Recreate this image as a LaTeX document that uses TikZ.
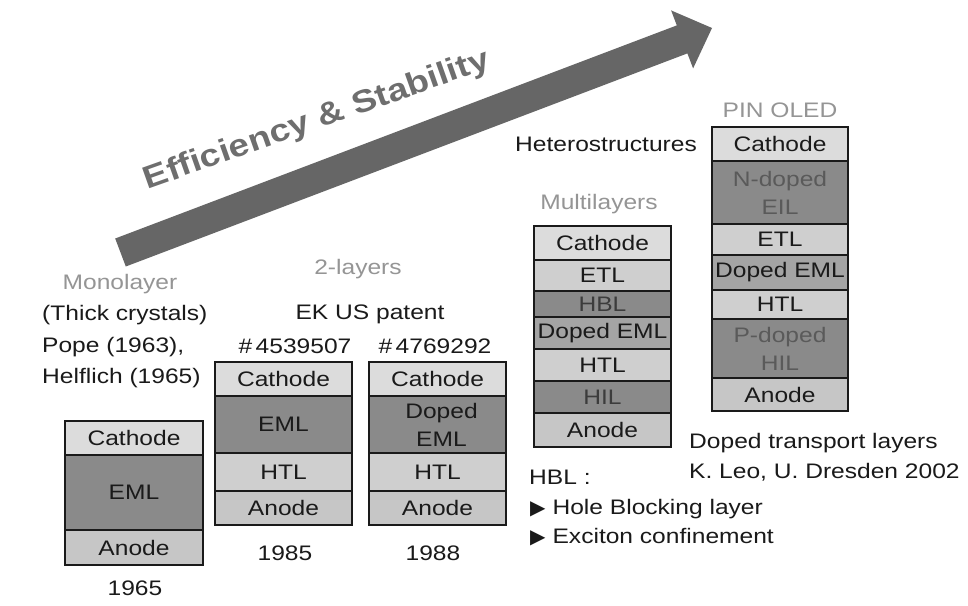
\documentclass[tikz,border=0pt]{standalone}
\usepackage{fontspec}
\setmainfont{Liberation Sans}[FakeStretch=1.17]
\newfontfamily\symfont{DejaVu Sans}
\newcommand\labfont{\fontsize{21}{28}\selectfont}
\newcommand\titlefont{\fontsize{31.5}{34}\selectfont\bfseries}
\definecolor{linec}{HTML}{1A1A1A}
\definecolor{txt}{HTML}{1A1A1A}
\definecolor{graytxt}{HTML}{959595}
\definecolor{cathc}{HTML}{DCDCDC}
\definecolor{tlc}{HTML}{CFCFCF}
\definecolor{anodec}{HTML}{C6C6C6}
\definecolor{darkc}{HTML}{8A8A8A}
\definecolor{dopedc}{HTML}{A4A4A4}
\definecolor{darktxt}{HTML}{3C3C3C}
\definecolor{dimtxt}{HTML}{5A5A5A}
\definecolor{arrowc}{HTML}{666666}
\definecolor{titlec}{HTML}{6E6E6E}
\begin{document}
\begin{tikzpicture}[x=1pt,y=-1pt,
  lay/.style={draw=linec, line width=2.8pt, inner sep=0pt, minimum width=137pt, align=center, text=txt, font=\labfont},
  cath/.style={lay, fill=cathc},
  tl/.style={lay, fill=tlc},
  an/.style={lay, fill=anodec},
  dk/.style={lay, fill=darkc},
  dp/.style={lay, fill=dopedc},
  lbl/.style={inner sep=0pt, font=\labfont, text=txt, text height=15pt, text depth=0pt},
  glbl/.style={lbl, text=graytxt}]
\path[use as bounding box, fill=white] (0,0) rectangle (968,605);

% big arrow
\fill[arrowc] (115.2,238.5) -- (676.8,25.4) -- (671.1,10.4) -- (712,28) -- (693.1,68.4) -- (687.4,53.4) -- (125.8,266.5) -- cycle;
\node[inner sep=0pt, text=titlec, font=\titlefont, text height=22pt, text depth=0pt, rotate=19.5] (title) at (316,118) {Efficiency \& Stability};

% Monolayer
\node[glbl] (monot) at (120,282) {Monolayer};
\node[lbl, anchor=west] (mono1) at (42,313) {(Thick crystals)};
\node[lbl, anchor=west] (mono2) at (42,345) {Pope (1963),};
\node[lbl, anchor=west] (mono3) at (42,376) {Helflich (1965)};
\node[cath, minimum width=138pt, minimum height=34pt] (m1) at (134,438) {Cathode};
\node[dk, minimum width=138pt, minimum height=75pt] (m2) at (134,492.5) {EML};
\node[an, minimum width=138pt, minimum height=35pt] (m3) at (134,547.5) {Anode};
\node[lbl] (y1965) at (135,588) {1965};

% 2-layers
\node[glbl] (twot) at (358,267) {2-layers};
\node[lbl] (ek) at (370,312) {EK US patent};
\node[lbl] (pa) at (295,346) {\#\,4539507};
\node[lbl] (pb) at (435,346) {\#\,4769292};
\node[cath, minimum height=34pt] (a1) at (283.5,379) {Cathode};
\node[dk, minimum height=57pt] (a2) at (283.5,424.5) {EML};
\node[tl, minimum height=38pt] (a3) at (283.5,472) {HTL};
\node[an, minimum height=34pt] (a4) at (283.5,508) {Anode};
\node[lbl] (y1985) at (285,553) {1985};
\node[cath, minimum height=34pt] (b1) at (437.5,379) {Cathode};
\node[dk, minimum height=57pt] (b2) at (437.5,424.5) {\hspace*{8pt}Doped\\\hspace*{8pt}EML};
\node[tl, minimum height=38pt] (b3) at (437.5,472) {HTL};
\node[an, minimum height=34pt] (b4) at (437.5,508) {Anode};
\node[lbl] (y1988) at (433,553) {1988};

% Multilayers
\node[lbl] (het) at (606,144) {Heterostructures};
\node[glbl] (multt) at (599,202) {Multilayers};
\node[cath, minimum height=34pt] (c1) at (602.5,243) {Cathode};
\node[tl, minimum height=31pt] (c2) at (602.5,275.5) {ETL};
\node[dk, minimum height=26pt, text=darktxt] (c3) at (602.5,304) {HBL};
\node[dp, minimum height=32pt] (c4) at (602.5,333) {Doped EML};
\node[tl, minimum height=32pt] (c5) at (602.5,365) {HTL};
\node[dk, minimum height=32pt, text=darktxt] (c6) at (602.5,397) {HIL};
\node[an, minimum height=34pt] (c7) at (602.5,430) {Anode};
\node[lbl, anchor=west] (hbl) at (529,477) {HBL :};
\node[lbl, anchor=west] (hb1) at (530,507) {{\symfont\fontsize{20}{22}\selectfont ▶}\hspace{7pt}Hole Blocking layer};
\node[lbl, anchor=west] (hb2) at (530,536) {{\symfont\fontsize{20}{22}\selectfont ▶}\hspace{7pt}Exciton confinement};

% PIN OLED
\node[glbl] (pint) at (780,110) {PIN OLED};
\node[cath, minimum width=136pt, minimum height=34pt] (d1) at (780,144) {Cathode};
\node[dk, minimum width=136pt, minimum height=63pt, text=dimtxt] (d2) at (780,192.5) {N-doped\\EIL};
\node[tl, minimum width=136pt, minimum height=31pt] (d3) at (780,239.5) {ETL};
\node[dp, minimum width=136pt, minimum height=35pt] (d4) at (780,272.5) {Doped EML};
\node[tl, minimum width=136pt, minimum height=29pt] (d5) at (780,304.5) {HTL};
\node[dk, minimum width=136pt, minimum height=59pt, text=dimtxt] (d6) at (780,348.5) {P-doped\\HIL};
\node[an, minimum width=136pt, minimum height=33pt] (d7) at (780,394.5) {Anode};
\node[lbl, anchor=west] (dt1) at (689,441) {Doped transport layers};
\node[lbl, anchor=west] (dt2) at (689,471) {K. Leo, U. Dresden 2002};
\end{tikzpicture}
\end{document}
